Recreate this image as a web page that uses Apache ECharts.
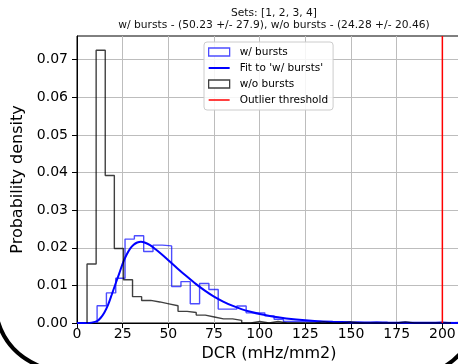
<!DOCTYPE html>
<html>
<head>
<meta charset="utf-8">
<script src="https://cdn.jsdelivr.net/npm/echarts@6/dist/echarts.min.js"></script>
<style>html,body{margin:0;padding:0;background:#fff}#c{width:458px;height:364px}</style>
</head>
<body>
<div id="c"></div>
<script>
// ---- data ----
const titleLines = ["Sets: [1, 2, 3, 4]", "w/ bursts - (50.23 +/- 27.9), w/o bursts - (24.28 +/- 20.46)"];
const xTicks = [0, 25, 50, 75, 100, 125, 150, 175, 200];
const yTicks = [0.00, 0.01, 0.02, 0.03, 0.04, 0.05, 0.06, 0.07];

// histogram "w/ bursts": first bin edge, bin width, densities
const burstBinStart = 11.0;
const burstBinWidth = 5.1;
const burstDensity = [0.0046, 0.0080, 0.0119, 0.0223, 0.0232, 0.0190, 0.0207, 0.0205, 0.0097, 0.0110,
  0.0051, 0.0105, 0.0089, 0.0037, 0.0037, 0.0045, 0.0027, 0.0027, 0.0019, 0.0010,
  0.0004, 0.0004, 0.0004, 0.0004, 0.0002, 0.0002, 0.0000, 0.0002, 0.0000, 0.0002,
  0.0000, 0.0000, 0.0002, 0.0000, 0.0000, 0.0000, 0.0002, 0.0000, 0.0002];

// histogram "w/o bursts"
const noBurstBinStart = 5.5;
const noBurstBinWidth = 4.98;
const noBurstDensity = [0.0157, 0.0725, 0.0392, 0.0198, 0.0115, 0.0070, 0.0060, 0.0056, 0.0051, 0.0046,
  0.0031, 0.0028, 0.0021, 0.0016, 0.0011, 0.0011, 0.0007, 0.0000, 0.0004, 0.0000,
  0.0004, 0.0000, 0.0000, 0.0000, 0.0000, 0.0003, 0.0000, 0.0000, 0.0003, 0.0000,
  0.0000, 0.0000, 0.0000, 0.0000, 0.0003, 0.0000, 0.0000, 0.0000, 0.0000, 0.0000];

// fit curve to 'w/ bursts'
const fitX = [0, 5, 8, 11, 13, 15, 17, 19, 21, 23, 25, 27, 29, 31, 33, 35, 37, 40, 43, 46, 50, 55, 60, 65, 70, 75, 80, 85, 90, 95, 100, 110, 120, 130, 140, 150, 170, 190, 211];
const fitY = [0, 0.00001, 0.0001, 0.0005, 0.0014, 0.0028, 0.0048, 0.0075, 0.0103, 0.0130, 0.0158, 0.0180, 0.0197, 0.0208, 0.0214, 0.0216, 0.0214, 0.0207, 0.0196, 0.0184, 0.0167, 0.0145, 0.0124, 0.0104, 0.0086, 0.0070, 0.0057, 0.0046, 0.0037, 0.0030, 0.0024, 0.0015, 0.0009, 0.0005, 0.0003, 0.0002, 0.0001, 0.00005, 0.00002];

const outlierThreshold = 200;
const xMax = 210.2;
const yMax = 0.0763;

// ---- build step outlines ----
function stepPoints(start, width, vals) {
  const pts = [[start, 0]];
  vals.forEach((v, i) => {
    const l = start + i * width, r = l + width;
    pts.push([l, v], [r, v]);
  });
  pts.push([start + vals.length * width, 0]);
  return pts;
}
const FONT = 'DejaVu Sans';
const chart = echarts.init(document.getElementById('c'), null, {renderer: 'canvas'});
chart.setOption({
  animation: false,
  backgroundColor: '#fff',
  textStyle: {fontFamily: FONT},
  title: {
    text: titleLines.join('\n'),
    left: 269, top: 2, textAlign: 'center',
    textStyle: {fontFamily: FONT, fontSize: 10.7, fontWeight: 'normal', color: '#111', lineHeight: 12}
  },
  grid: {left: 77, top: 36, right: -3, bottom: 41, show: true, borderColor: '#000', borderWidth: 1,
    backgroundColor: 'transparent', containLabel: false, outerBoundsMode: 'none'},
  legend: {
    orient: 'vertical', left: 204, top: 42,
    itemWidth: 21, itemHeight: 8, itemGap: 4,
    padding: [4, 5, 4, 4],
    backgroundColor: 'rgba(255,255,255,0.85)', borderColor: '#cccccc', borderWidth: 1, borderRadius: 3,
    textStyle: {fontFamily: FONT, fontSize: 10.5, color: '#000', lineHeight: 12, padding: [0, 0, 0, 5]},
    data: [
      {name: 'w/ bursts', icon: 'rect', itemStyle: {color: '#fff', borderColor: 'rgba(0,0,255,0.7)', borderWidth: 1.3}},
      {name: "Fit to 'w/ bursts'", icon: 'path://M0 0 H21 V2 H0 Z', itemStyle: {color: '#0000ff', borderWidth: 0}},
      {name: 'w/o bursts', icon: 'rect', itemStyle: {color: '#fff', borderColor: 'rgba(0,0,0,0.75)', borderWidth: 1.3}},
      {name: 'Outlier threshold', icon: 'path://M0 0 H21 V1.5 H0 Z', itemStyle: {color: '#ff0000', borderWidth: 0}}
    ]
  },
  xAxis: {
    type: 'value', min: 0, max: xMax, interval: 25,
    name: 'DCR (mHz/mm2)', nameLocation: 'middle', nameGap: 15,
    nameTextStyle: {fontFamily: FONT, fontSize: 16, color: '#000'},
    axisLine: {onZero: false, lineStyle: {color: '#000', width: 1}},
    axisTick: {show: true, length: 5, lineStyle: {color: '#000'}},
    axisLabel: {fontFamily: FONT, fontSize: 14, color: '#000', margin: 4, showMaxLabel: false,
      formatter: v => (xTicks.indexOf(v) >= 0 ? String(v) : '')},
    splitLine: {show: true, showMinLine: false, showMaxLine: false, lineStyle: {color: '#bdbdbd', width: 1}}
  },
  yAxis: {
    type: 'value', min: 0, max: yMax, interval: 0.01,
    name: 'Probability density', nameLocation: 'middle', nameGap: 46,
    nameTextStyle: {fontFamily: FONT, fontSize: 16, color: '#000'},
    axisLine: {show: true, onZero: false, lineStyle: {color: '#000', width: 1}},
    axisTick: {show: true, length: 5, lineStyle: {color: '#000'}},
    axisLabel: {fontFamily: FONT, fontSize: 14, color: '#000', margin: 9, showMaxLabel: false,
      formatter: v => {
        const hit = yTicks.find(t => Math.abs(t - v) < 1e-9);
        return hit === undefined ? '' : hit.toFixed(2);
      }},
    splitLine: {show: true, showMinLine: false, showMaxLine: false, lineStyle: {color: '#bdbdbd', width: 1}}
  },
  series: [
    {
      name: 'w/ bursts', type: 'line', showSymbol: false, symbol: 'none', clip: true, z: 3,
      color: 'rgba(0,0,255,0.7)',
      lineStyle: {color: 'rgba(0,0,255,0.7)', width: 1.4},
      data: stepPoints(burstBinStart, burstBinWidth, burstDensity)
    },
    {
      name: "Fit to 'w/ bursts'", type: 'line', showSymbol: false, symbol: 'none', smooth: 0.3, clip: true, z: 4,
      color: '#0000ff',
      lineStyle: {color: '#0000ff', width: 2},
      data: fitX.map((x, i) => [x, fitY[i]])
    },
    {
      name: 'w/o bursts', type: 'line', showSymbol: false, symbol: 'none', clip: true, z: 5,
      color: 'rgba(0,0,0,0.75)',
      lineStyle: {color: 'rgba(0,0,0,0.75)', width: 1.4},
      data: stepPoints(noBurstBinStart, noBurstBinWidth, noBurstDensity)
    },
    {
      name: 'Outlier threshold', type: 'line', showSymbol: false, symbol: 'none', clip: true, z: 6,
      color: '#ff0000',
      lineStyle: {color: '#ff0000', width: 1.5},
      data: [[outlierThreshold, 0], [outlierThreshold, yMax]]
    }
  ],
  graphic: [
    {type: 'bezierCurve', silent: true, z: 100,
      shape: {x1: -3, y1: 318, cpx1: 6, cpy1: 354, x2: 44, y2: 368},
      style: {stroke: '#000', lineWidth: 4, fill: null}},
    {type: 'bezierCurve', silent: true, z: 100,
      shape: {x1: 463, y1: 350, cpx1: 456, cpy1: 360, x2: 442, y2: 368},
      style: {stroke: '#000', lineWidth: 4, fill: null}}
  ]
});
</script>
</body>
</html>
